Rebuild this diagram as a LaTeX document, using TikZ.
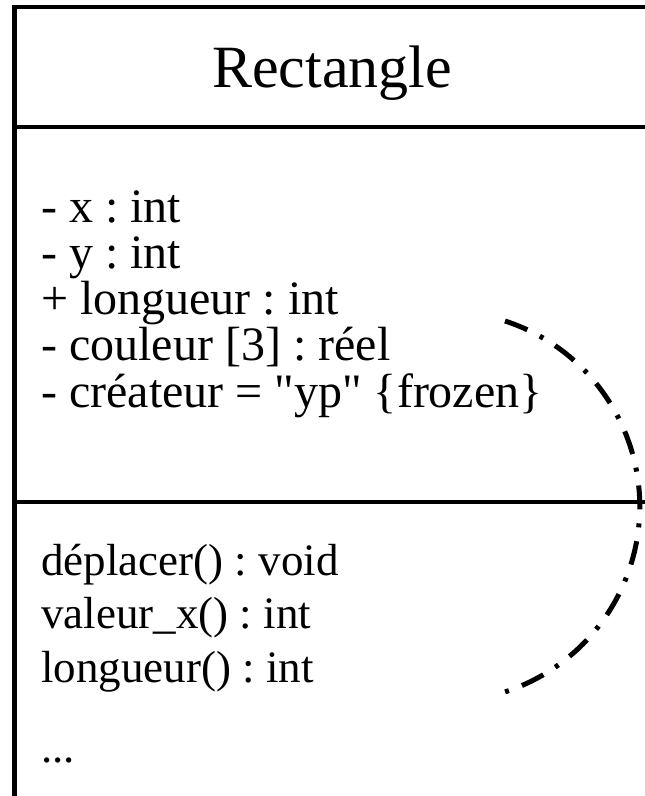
\documentclass[tikz,border=0pt]{standalone}
\usepackage{fontspec}
\setmainfont{Liberation Serif}[Ligatures=TeXOff]
\frenchspacing
\begin{document}
\begin{tikzpicture}[x=1pt,y=1pt,
  frame/.style={line width=4.5pt},
  titletext/.style={inner sep=0pt,anchor=base,font=\fontsize{60}{72}\selectfont},
  attrtext/.style={inner sep=0pt,anchor=base west,font=\fontsize{48}{56}\selectfont},
  optext/.style={inner sep=0pt,anchor=base west,font=\fontsize{45}{54}\selectfont},
  linkarc/.style={line width=5pt,dash pattern=on 24pt off 14pt on 4pt off 14pt}]
  \useasboundingbox (0,0) rectangle (645,-796);
  \clip (0,0) rectangle (645,-796);
  % class box: left edge, top edge and the two compartment separators
  \coordinate (topleft) at (14.5,-7);
  \coordinate (bottomleft) at (14.5,-800);
  \coordinate (topright) at (650,-7);
  \coordinate (sepa) at (14.5,-127);
  \coordinate (sepaend) at (650,-127);
  \coordinate (sepb) at (14.5,-502);
  \coordinate (sepbend) at (650,-502);
  \draw[frame] (bottomleft) -- (topleft) -- (topright);
  \draw[frame] (sepa) -- (sepaend);
  \draw[frame] (sepb) -- (sepbend);
  % class name
  \node[titletext] (name) at (332,-87) {Rectangle};
  % attributes
  \node[attrtext] (attx) at (41,-222) {- x : int};
  \node[attrtext] (atty) at (41,-268) {- y : int};
  \node[attrtext] (attlong) at (41,-314) {+ longueur : int};
  \node[attrtext] (attcol) at (41,-360) {- couleur [3] : réel};
  \node[attrtext] (attcre) at (41,-407) {- créateur = "yp" \{frozen\}};
  % operations
  \node[optext] (opmove) at (41,-575) {déplacer() : void};
  \node[optext] (opvalx) at (41,-628) {valeur\_x() : int};
  \node[optext] (oplong) at (41,-682) {longueur() : int};
  \node[optext] (opmore) at (41,-762) {...};
  % dash-dot arc linking the attribute to its accessor
  \coordinate (arcstart) at (505,-321);
  \draw[linkarc] (arcstart) arc[start angle=72,end angle=-72,radius=195];
\end{tikzpicture}
\end{document}
